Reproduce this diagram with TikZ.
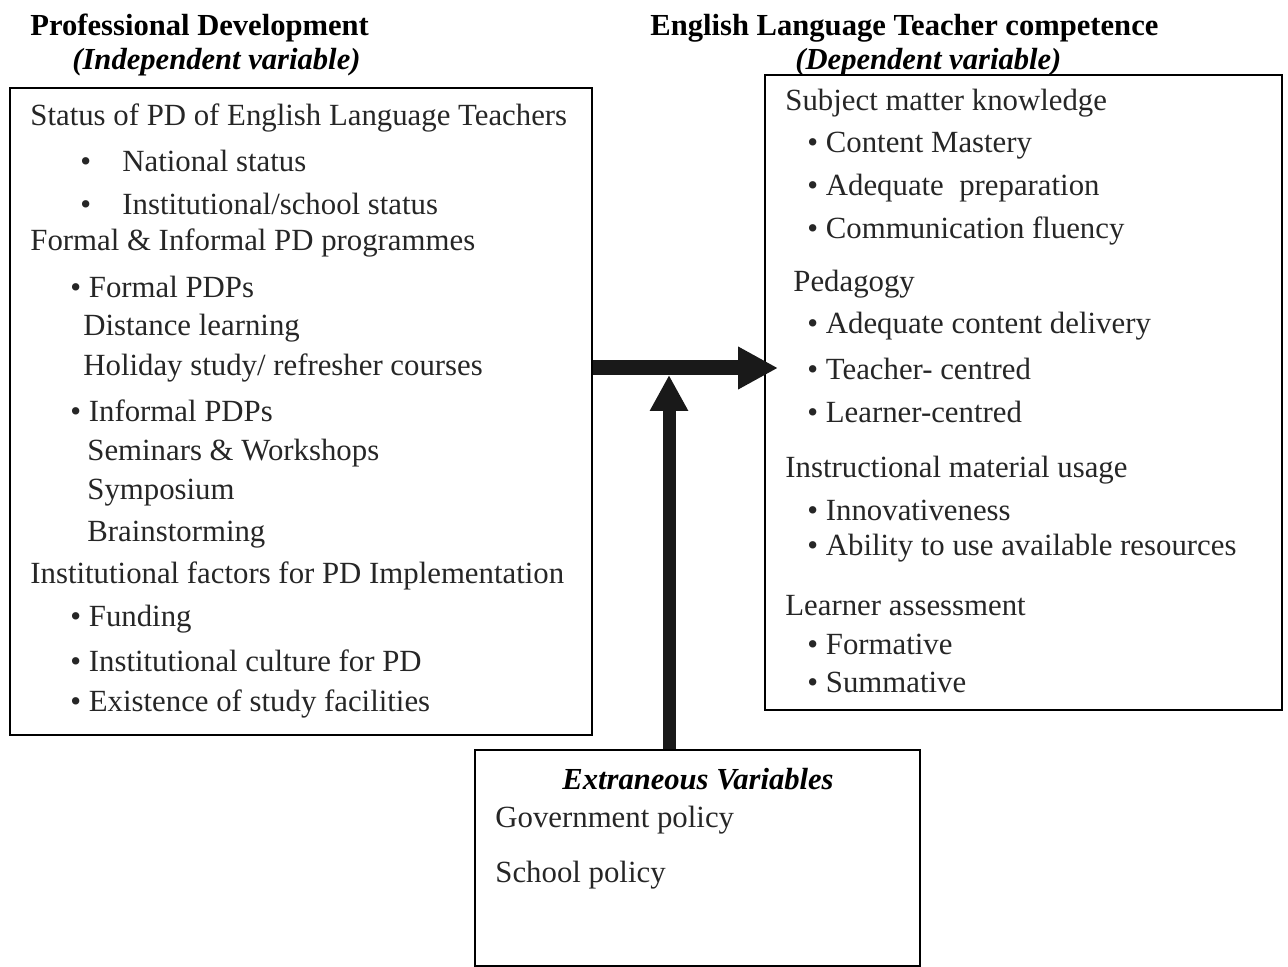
\documentclass[tikz,border=0pt]{standalone}
\usepackage{fontspec}
\setmainfont{Liberation Serif}
\usetikzlibrary{arrows.meta}

\tikzset{
  txt/.style={anchor=west, inner sep=0pt, text=black!85,
    font=\fontsize{15.4}{18}\selectfont},
  head/.style={anchor=west, inner sep=0pt,
    font=\fontsize{15.3}{18}\selectfont\bfseries},
  box/.style={draw, line width=1pt, inner sep=0pt},
  bigarrow/.style={line width=7.5pt, black!90,
    -{Triangle[length=20pt,width=20pt]}},
}
\newcommand{\bul}{\textbullet\ }

\begin{document}
\begin{tikzpicture}[x=0.5pt, y=-0.5pt]
  \useasboundingbox (0,0) rectangle (1288,967);

  % headings
  \node[head] (pdhead) at (30,28) {Professional Development};
  \node[head] (pdvar) at (72,62) {\itshape (Independent variable)};
  \node[head] (elthead) at (650,28) {English Language Teacher competence};
  \node[head] (eltvar) at (795,62) {\itshape (Dependent variable)};

  % the three boxes
  \node[box, minimum width=291pt, minimum height=323.5pt] (lbox) at (301,411.5) {};
  \node[box, minimum width=258.5pt, minimum height=317.5pt] (rbox) at (1023.5,392.5) {};
  \node[box, minimum width=222.5pt, minimum height=108pt] (xbox) at (697.5,858) {};

  % independent variable
  \node[txt] (status) at (30,118) {Status of PD of English Language Teachers};
  \node[txt] (natl) at (80,161) {\makebox[21pt][l]{\textbullet}National status};
  \node[txt] (inst) at (80,204) {\makebox[21pt][l]{\textbullet}Institutional/school status};
  \node[txt] (formal) at (30,243) {Formal \& Informal PD programmes};
  \node[txt] (fpdp) at (70,287) {\bul Formal PDPs};
  \node[txt] (dist) at (83,328) {Distance learning};
  \node[txt] (holi) at (83,368) {Holiday study/ refresher courses};
  \node[txt] (ipdp) at (70,411) {\bul Informal PDPs};
  \node[txt] (semi) at (87,453) {Seminars \& Workshops};
  \node[txt] (symp) at (87,493) {Symposium};
  \node[txt] (brain) at (87,535) {Brainstorming};
  \node[txt] (factors) at (30,576) {Institutional factors for PD Implementation};
  \node[txt] (fund) at (70,619) {\bul Funding};
  \node[txt] (cult) at (70,661) {\bul Institutional culture for PD};
  \node[txt] (facil) at (70,704) {\bul Existence of study facilities};

  % dependent variable
  \node[txt] (subj) at (785,103) {Subject matter knowledge};
  \node[txt] (content) at (807,146) {\bul Content Mastery};
  \node[txt] (prep) at (807,188) {\bul Adequate\ \ preparation};
  \node[txt] (fluency) at (807,231) {\bul Communication fluency};
  \node[txt] (peda) at (793,284) {Pedagogy};
  \node[txt] (deliv) at (807,326) {\bul Adequate content delivery};
  \node[txt] (tcent) at (807,369) {\bul Teacher- centred};
  \node[txt] (lcent) at (807,412) {\bul Learner-centred};
  \node[txt] (instr) at (785,470) {Instructional material usage};
  \node[txt] (innov) at (807,510) {\bul Innovativeness};
  \node[txt] (abil) at (807,548) {\bul Ability to use available resources};
  \node[txt] (assess) at (785,606) {Learner assessment};
  \node[txt] (form) at (807,644) {\bul Formative};
  \node[txt] (summ) at (807,682) {\bul Summative};

  % extraneous variables
  \node[head, anchor=center] (extr) at (698,779) {\itshape Extraneous Variables};
  \node[txt] (gov) at (495,820) {Government policy};
  \node[txt] (schpol) at (495,875) {School policy};

  % arrows
  \coordinate (hit) at (778,368);
  \coordinate (vtip) at (669,375);
  \draw[bigarrow] (lbox.east |- hit) -- (hit);
  \draw[bigarrow, line width=6.5pt, -{Triangle[length=18pt,width=18pt]}]
    (xbox.north -| vtip) -- (vtip);
\end{tikzpicture}
\end{document}
